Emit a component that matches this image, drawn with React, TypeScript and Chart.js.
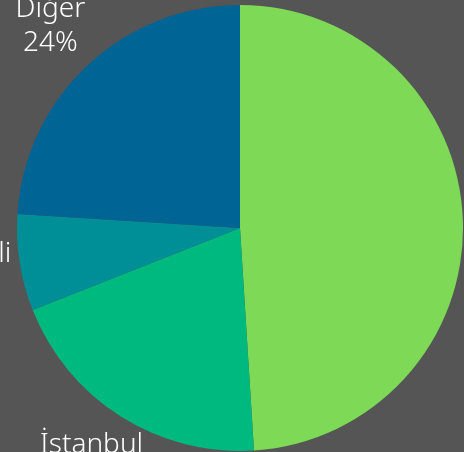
import React, { useEffect, useRef } from "react";
import { Chart, registerables } from "chart.js";

Chart.register(...registerables);

const categories = ["Bursa", "İstanbul", "Kocaeli", "Diğer"];
const values = [49, 20, 7, 24];
const colors = ["#7ed957", "#00b97e", "#008f96", "#006494"];

const labelPlugin = {
  id: "outerLabels",
  afterDatasetsDraw(chart: any) {
    const ctx = chart.ctx;
    const meta = chart.getDatasetMeta(0);
    ctx.save();
    ctx.fillStyle = "#ffffff";
    ctx.font = "300 28px 'Noto Sans', sans-serif";
    ctx.textAlign = "center";
    ctx.textBaseline = "middle";
    meta.data.forEach((arc: any, i: number) => {
      const { x, y, startAngle, endAngle, outerRadius } = arc.getProps(
        ["x", "y", "startAngle", "endAngle", "outerRadius"],
        true
      );
      const mid = (startAngle + endAngle) / 2;
      const r = outerRadius + 54;
      const cx = x + Math.cos(mid) * r;
      const cy = y + Math.sin(mid) * r;
      ctx.fillText(categories[i], cx, cy - 17);
      ctx.fillText(values[i] + "%", cx, cy + 17);
    });
    ctx.restore();
  },
};

export default function App() {
  const ref = useRef<HTMLCanvasElement>(null);
  useEffect(() => {
    document.body.style.margin = "0";
    const chart = new Chart(ref.current!, {
      type: "pie",
      data: {
        labels: categories,
        datasets: [
          {
            data: values,
            backgroundColor: colors,
            borderWidth: 0,
          },
        ],
      },
      options: {
        responsive: false,
        animation: false,
        layout: { padding: { left: 17, right: 1, top: 5, bottom: 1 } },
        plugins: { legend: { display: false }, tooltip: { enabled: false } },
      },
      plugins: [labelPlugin],
    });
    return () => chart.destroy();
  }, []);
  return (
    <div style={{ position: "fixed", left: 0, top: 0, width: 464, height: 452, background: "#555555" }}>
      <canvas ref={ref} width={464} height={452} style={{ display: "block" }} />
    </div>
  );
}
